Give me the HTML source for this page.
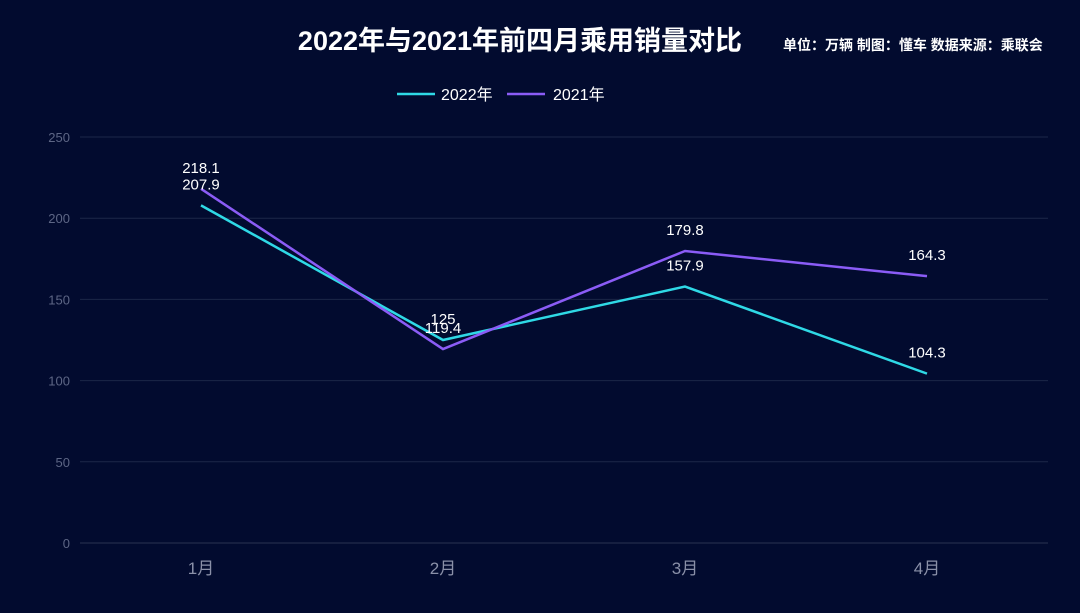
<!DOCTYPE html>
<html><head><meta charset="utf-8"><style>
html,body{margin:0;padding:0;background:#020b2f;}
body{width:1080px;height:608px;overflow:hidden;font-family:"Liberation Sans","Noto Sans CJK SC",sans-serif;}
</style></head><body>
<svg id="chart" width="1080" height="608" xmlns="http://www.w3.org/2000/svg">
<rect width="1080" height="608" fill="#020b2f"/>
<text x="520" y="50" text-anchor="middle" font-size="27" font-weight="bold" fill="#ffffff" font-family="Liberation Sans, Noto Sans CJK SC, sans-serif">2022年与2021年前四月乘用销量对比</text>
<text x="783" y="50" font-size="14" font-weight="bold" fill="#ffffff" font-family="Liberation Sans, Noto Sans CJK SC, sans-serif">单位：万辆 制图：懂车 数据来源：乘联会</text>
<g>
<line x1="397" y1="94" x2="435" y2="94" stroke="#2fd9e6" stroke-width="2.5"/>
<text x="441" y="100" font-size="16" fill="#ffffff" font-family="Liberation Sans, Noto Sans CJK SC, sans-serif">2022年</text></g>
<g>
<line x1="507" y1="94" x2="545" y2="94" stroke="#8b5cf6" stroke-width="2.5"/>
<text x="553" y="100" font-size="16" fill="#ffffff" font-family="Liberation Sans, Noto Sans CJK SC, sans-serif">2021年</text></g>
<g id="grid"></g><g id="axes"></g><g id="series"></g><g id="labels"></g>
</svg>
<script>
const categories=["1月","2月","3月","4月"];
const values2022=[207.9,125,157.9,104.3];
const values2021=[218.1,119.4,179.8,164.3];
const yTicks=[0,50,100,150,200,250];
const NS="http://www.w3.org/2000/svg";
const x0=80,x1=1048,yBase=543,yTop=137,yMax=250;
function xs(i){return x0+(x1-x0)/categories.length*(i+0.5);}
function ys(v){return yBase-(yBase-yTop)*v/yMax;}
function mk(tag,attrs,parent,text){const e=document.createElementNS(NS,tag);for(const k in attrs)e.setAttribute(k,attrs[k]);if(text!==undefined)e.textContent=text;document.getElementById(parent).appendChild(e);return e;}
const ff="Liberation Sans, Noto Sans CJK SC, sans-serif";
yTicks.forEach(t=>{
 const l=mk('line',{x1:x0,x2:x1,y1:ys(t),y2:ys(t),stroke:t===0?'#2a3350':'#1c2748','stroke-width':1},'grid');
 
 
 const tx=mk('text',{x:70,y:ys(t)+5,'text-anchor':'end','font-size':13,fill:'#5d6685','font-family':ff},'axes',String(t));
 
 
});
categories.forEach((c,i)=>{
 const tx=mk('text',{x:xs(i),y:574,'text-anchor':'middle','font-size':17,fill:'#8a90a8','font-family':ff},'axes',c);
 
 
});
function series(vals,color,name){
 const p=mk('polyline',{points:vals.map((v,i)=>xs(i)+','+ys(v)).join(' '),fill:'none',stroke:color,'stroke-width':2.5},'series');
 
 
 vals.forEach((v,i)=>{
  const t=mk('text',{x:xs(i),y:ys(v)-16,'text-anchor':'middle','font-size':15,fill:'#ffffff','font-family':ff},'labels',String(v));
  
  
 });
}
series(values2022,'#2fd9e6','2022');
series(values2021,'#8b5cf6','2021');
</script>
</body></html>
